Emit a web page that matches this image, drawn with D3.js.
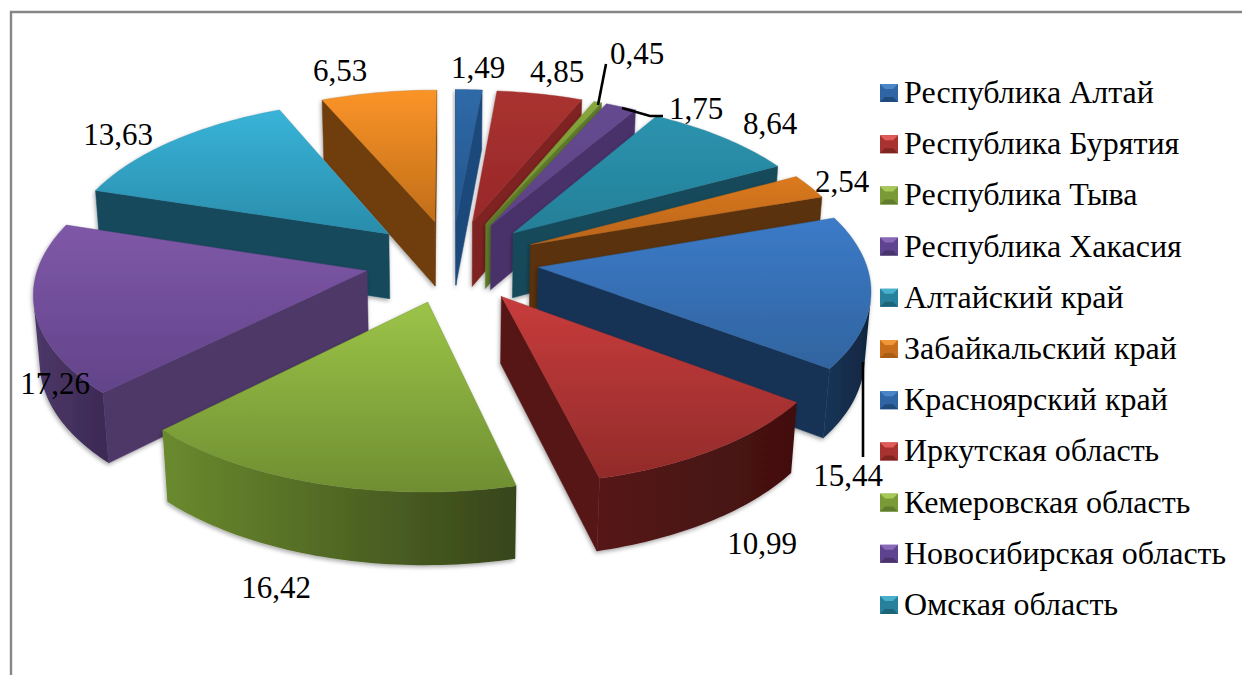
<!DOCTYPE html>
<html><head><meta charset="utf-8">
<script src="https://cdn.jsdelivr.net/npm/d3@7"></script>
<style>html,body{margin:0;padding:0;background:#fff;overflow:hidden}
text{font-family:"Liberation Serif","Times New Roman",serif;fill:#000}</style>
</head><body><svg id="c" width="1242" height="675"></svg>
<script>
const categories=["Республика Алтай","Республика Бурятия","Республика Тыва","Республика Хакасия","Алтайский край","Забайкальский край","Красноярский край","Иркутская область","Кемеровская область","Новосибирская область","Омская область"];
const values=[1.49,4.85,0.45,1.75,8.64,2.54,15.44,10.99,16.42,17.26,13.63,6.53];
const valueLabels=["1,49","4,85","0,45","1,75","8,64","2,54","15,44","10,99","16,42","17,26","13,63","6,53"];
const topLight=["#2f6aa8","#a93230","#86a83c","#664a90","#2b93ae","#dc7a1e","#3c7ac8","#c83c3c","#9cc448","#7f58a8","#38b4d8","#fb9428"];
const topDark=["#24558c","#98282a","#6f8c30","#5c4285","#257f98","#b8641a","#30649f","#922b2a","#6f8e32","#624389","#2a8cab","#c06e18"];
const wallLight=["#1f4a7c","#7f2420","#5f7c2c","#48336a","#164a5a","#5a300c","#173355","#561716","#6a8a2e","#4d3868","#164a5c","#6f3e0f"];
const wallDark=["#1f4a7c","#7f2420","#5f7c2c","#48336a","#164a5a","#5a300c","#10263f","#421010","#37451a","#3c2a55","#103a48","#5f340c"];
const legendLight=["#4a86c8","#e05c58","#a8c858","#8a68b8","#48b0cc","#f09838","#4a86c8","#e05c58","#a8c858","#8a68b8","#48b0cc"];
const legendMid=["#2f65a5","#a83230","#7a9a38","#5e4390","#27819c","#c86d1c","#2f65a5","#a83230","#7a9a38","#5e4390","#27819c"];
const legendDark=["#1f4a7c","#7f2420","#5f7c2c","#48336a","#1c6478","#a85c14","#1f4a7c","#7f2420","#5f7c2c","#48336a","#1c6478"];
const labelPos=[[478,78],[557,82],[637,64],[696,119],[770,134],[842,192],[848,486],[762,554],[276,598],[55,394],[118,145],[340,81]];
const leaderLines=[[[598,105],[606,64]],[[622,108],[650,116],[663,116]],[[863,362],[863,457]]];

const svg=d3.select("#c");
const defs=svg.append("defs");
const cx=452,cy=261,D=7.3,f=2390,tilt=28.5*Math.PI/180,H=0.232,EX=0.265;
function proj(X,Y,Z){
  const w=D-Y*Math.cos(tilt)-Z*Math.sin(tilt);
  return [cx+f*X/w, cy+f*(Y*Math.sin(tilt)-Z*Math.cos(tilt))/w];
}
const line=d3.line();
const area=pts=>{let a=0;pts.forEach((p,i)=>{const q=pts[(i+1)%pts.length];a+=p[0]*q[1]-q[0]*p[1];});return a/2;};
const arcs=d3.pie().sort(null).value(d=>d)(values);

const shadow=defs.append("filter").attr("id","sh").attr("x","-10%").attr("y","-10%").attr("width","120%").attr("height","120%");
shadow.append("feDropShadow").attr("dx",-1).attr("dy",2).attr("stdDeviation",2).attr("flood-color","#000").attr("flood-opacity",.35);

const slices=arcs.map((a,i)=>{
  const mid=(a.startAngle+a.endAngle)/2;
  return {i,a,mid,ox:EX*Math.sin(mid),oy:-EX*Math.cos(mid)};
}).sort((p,q)=>p.oy-q.oy);

slices.forEach(s=>{
  const {i,a,ox,oy}=s;
  const n=Math.max(2,Math.ceil((a.endAngle-a.startAngle)/0.02));
  const ang=d3.range(n+1).map(k=>a.startAngle+(a.endAngle-a.startAngle)*k/n);
  const rim=z=>ang.map(t=>proj(ox+Math.sin(t),oy-Math.cos(t),z));
  const C=z=>proj(ox,oy,z);
  const top=rim(0),bot=rim(-H);
  const g=svg.append("g").attr("filter","url(#sh)");
  const ys=[C(0)[1],...top.map(p=>p[1])];
  const lg=defs.append("linearGradient").attr("id","t"+i).attr("gradientUnits","userSpaceOnUse")
    .attr("x1",0).attr("x2",0).attr("y1",d3.min(ys)).attr("y2",d3.max(ys));
  lg.append("stop").attr("offset",0).attr("stop-color",topLight[i]);
  lg.append("stop").attr("offset",1).attr("stop-color",topDark[i]);
  const face=(pts,fill)=>{ g.append("path").attr("d",line(pts)+"Z").attr("fill",fill).attr("stroke",fill).attr("stroke-width",.5); };
  const wallA=[C(0),top[0],bot[0],C(-H)];
  const wallB=[top[n],C(0),C(-H),bot[n]];
  if(area(wallA)<0) face(wallA,wallLight[i]);
  if(area(wallB)<0) face(wallB,wallLight[i]);
  const vis=d3.range(n).filter(k=>area([top[k],top[k+1],bot[k+1],bot[k]])<0);
  if(vis.length){
    const k0=d3.min(vis),k1=d3.max(vis)+1;
    const tp=top.slice(k0,k1+1),bp=bot.slice(k0,k1+1).reverse();
    const xs=d3.extent(tp,p=>p[0]);
    const wg=defs.append("linearGradient").attr("id","w"+i).attr("gradientUnits","userSpaceOnUse")
      .attr("x1",xs[0]).attr("x2",xs[1]).attr("y1",0).attr("y2",0);
    wg.append("stop").attr("offset",0).attr("stop-color",wallLight[i]);
    wg.append("stop").attr("offset",1).attr("stop-color",wallDark[i]);
    g.append("path").attr("d",line([...tp,...bp])+"Z").attr("fill",`url(#w${i})`);
  }
  g.append("path").attr("d",line([C(0),...top])+"Z").attr("fill",`url(#t${i})`).attr("stroke",topDark[i]).attr("stroke-width",.4);
});

const frame=[[1242,12],[11,12],[11,675]];
svg.append("path").attr("d",line(frame)).attr("fill","none").attr("stroke","#868686").attr("stroke-width",2.4);

leaderLines.forEach(l=>svg.append("path").attr("d",line(l)).attr("fill","none").attr("stroke","#000").attr("stroke-width",2.6));

svg.selectAll("text.v").data(valueLabels).enter().append("text").attr("class","v")
  .attr("x",(d,i)=>labelPos[i][0]).attr("y",(d,i)=>labelPos[i][1])
  .attr("text-anchor","middle").attr("font-size",31).text(d=>d);

const ly=d3.scalePoint().domain(categories).range([93,605]);
const leg=svg.selectAll("g.l").data(categories).enter().append("g").attr("class","l")
  .attr("transform",d=>`translate(880,${ly(d)})`);
leg.each(function(d,i){
  const g=d3.select(this),s=18,t=-9,b=5;
  g.append("rect").attr("x",0).attr("y",t).attr("width",s).attr("height",s).attr("fill",legendMid[i]);
  g.append("path").attr("d",line([[0,t],[s,t],[s-b,t+b],[b,t+b]])+"Z").attr("fill",legendLight[i]);
  g.append("path").attr("d",line([[0,t+s],[s,t+s],[s-b,t+s-b],[b,t+s-b]])+"Z").attr("fill",legendDark[i]);
  g.append("text").attr("x",24).attr("y",10).attr("font-size",32).text(d);
});
</script></body></html>
